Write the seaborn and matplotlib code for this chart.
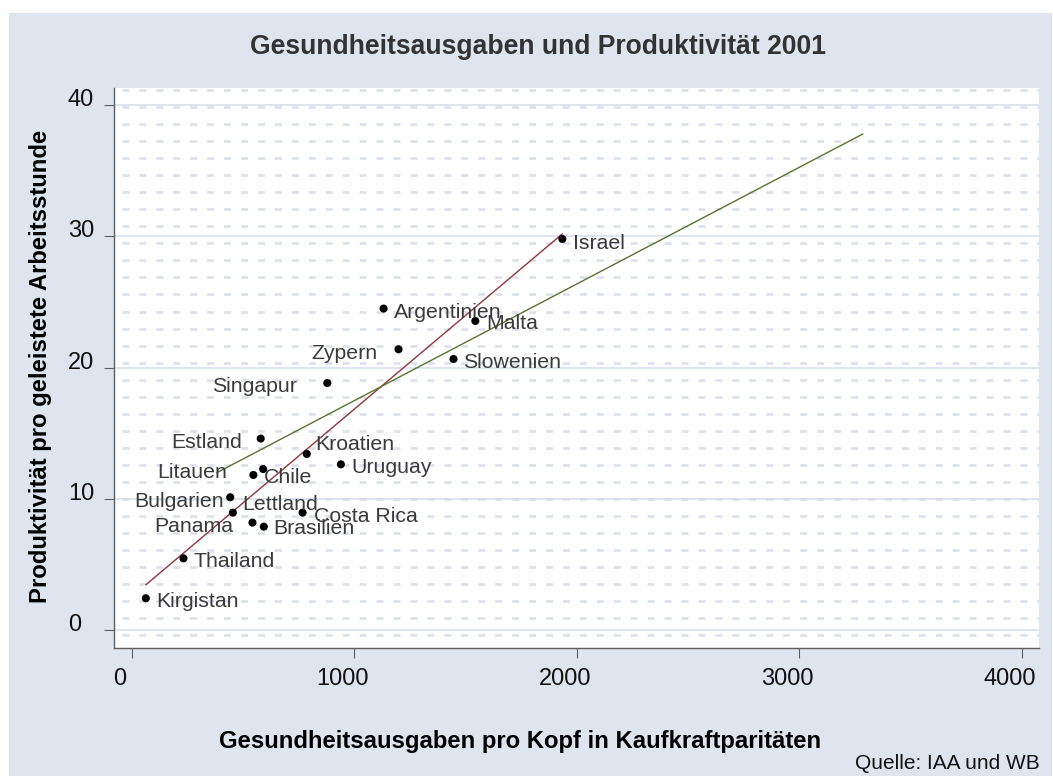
import numpy as np
import pandas as pd
import matplotlib
matplotlib.use('Agg')
import matplotlib.pyplot as plt
import matplotlib.transforms as mtransforms
from matplotlib.patches import Rectangle
import seaborn as sns

# Werte
laender = ['Argentinien', 'Malta', 'Zypern', 'Slowenien', 'Singapur', 'Estland',
           'Kroatien', 'Uruguay', 'Chile', 'Litauen', 'Bulgarien', 'Lettland',
           'Costa Rica', 'Panama', 'Brasilien', 'Thailand', 'Kirgistan', 'Israel']
ausgaben = [1132, 1544, 1199, 1446, 879, 580, 787, 940, 591, 547, 443, 455,
            768, 543, 594, 233, 64, 1935]
produktivitaet = [24.5, 23.56, 21.4, 20.66, 18.83, 14.6, 13.43, 12.64, 12.28, 11.83,
                  10.13, 8.96, 8.96, 8.2, 7.89, 5.48, 2.44, 29.8]

# zweite Gerade (andere Stichprobe, nur Endpunkte ablesbar)
gruen_x = [383, 3285]
gruen_y = [12.0, 37.8]

x_ticks = [0, 1000, 2000, 3000, 4000]
y_ticks = [0, 10, 20, 30, 40]

# Position der Beschriftungen relativ zum Punkt (Pixel, Ausrichtung)
label_pos = {
    'Argentinien': (10, -9.3, 'left'), 'Malta': (11, -8.3, 'left'),
    'Zypern': (-21, -9.7, 'right'), 'Slowenien': (10, -8.7, 'left'),
    'Singapur': (-30.3, -8.7, 'right'), 'Estland': (-19, -9, 'right'),
    'Kroatien': (8.3, 4, 'left'), 'Uruguay': (11, -9, 'left'),
    'Chile': (0.3, -14.3, 'left'), 'Litauen': (-26.7, -2.7, 'right'),
    'Bulgarien': (-6, -9.3, 'right'), 'Lettland': (9, 2.7, 'left'),
    'Costa Rica': (11, -9.7, 'left'), 'Panama': (-19, -9, 'right'),
    'Brasilien': (9.7, -7.7, 'left'), 'Thailand': (10, -8.3, 'left'),
    'Kirgistan': (10.3, -9, 'left'), 'Israel': (10.7, -9.7, 'left'),
}

df = pd.DataFrame({'Land': laender, 'Ausgaben': ausgaben, 'Produktivitaet': produktivitaet})

sns.set_theme(style='white')
plt.rcParams['font.family'] = ['Liberation Sans', 'DejaVu Sans']
plt.rcParams['lines.scale_dashes'] = False

W, H = 1053, 776
fig = plt.figure(figsize=(W / 100, H / 100), dpi=100, facecolor='white')
fig.patches.append(Rectangle((9 / W, 0), (1052 - 9) / W, (H - 13) / H, transform=fig.transFigure,
                             facecolor='#dfe5ef', edgecolor='none', zorder=-10))
ax = fig.add_axes([114 / W, 1 - 648 / H, (1039 - 114) / W, (648 - 88) / H])
ax.set_facecolor('white')

# gepunktetes Hintergrundmuster
for k in range(33):
    yk = 1 - (2 + 17.04 * k) / 560
    ax.plot([0, 1], [yk, yk], transform=ax.transAxes, color='#dbe0eb', lw=1.9,
            linestyle=(6.5, (5.0, 7.2)), zorder=0.3)

sns.regplot(data=df, x='Ausgaben', y='Produktivitaet', scatter=False, ci=None,
            color='#90353b', line_kws={'lw': 1.0, 'zorder': 2}, ax=ax)
sns.lineplot(x=gruen_x, y=gruen_y, color='#55752f', lw=1.0, ax=ax, zorder=2)
sns.scatterplot(data=df, x='Ausgaben', y='Produktivitaet', color='black', s=34,
                edgecolor='none', ax=ax, zorder=4, legend=False)

for land, xv, yv in zip(laender, ausgaben, produktivitaet):
    dx, dy, ha = label_pos[land]
    ax.annotate(land, (xv, yv), xytext=(dx, dy), textcoords='offset pixels',
                ha=ha, va='baseline', fontsize=15.3, color='#3a3a3a', zorder=5)

ax.set_xlim(-79, 4076)
ax.set_ylim(-1.35, 41.3)
ax.set_xticks(x_ticks)
ax.set_yticks(y_ticks)
ax.set_xlabel('')
ax.set_ylabel('')

ax.set_axisbelow(True)
ax.yaxis.grid(True, color='#d6deea', lw=1.1)
ax.xaxis.grid(False)
for s in ['top', 'right']:
    ax.spines[s].set_visible(False)
for s in ['left', 'bottom']:
    ax.spines[s].set_color('#5f5f5f')
    ax.spines[s].set_linewidth(1.0)

ax.tick_params(axis='both', direction='out', length=7.2, width=0.8, color='#5f5f5f',
               labelsize=17, labelcolor='#111111', bottom=True, left=True)
ax.tick_params(axis='y', pad=26)
ax.tick_params(axis='x', pad=7.5)

for lab in ax.get_yticklabels():
    lab.set_ha('left')
    lab.set_transform(lab.get_transform() + mtransforms.ScaledTranslation(0, 7.5 / 100, fig.dpi_scale_trans))
for lab in ax.get_xticklabels():
    lab.set_transform(lab.get_transform() + mtransforms.ScaledTranslation(-12 / 100, 0, fig.dpi_scale_trans))

fig.text(538 / W, 1 - 54 / H, 'Gesundheitsausgaben und Produktivität 2001', ha='center',
         va='baseline', fontsize=19.1, fontweight='bold', color='#333333')
fig.text(520 / W, 1 - 748 / H, 'Gesundheitsausgaben pro Kopf in Kaufkraftparitäten',
         ha='center', va='baseline', fontsize=17.2, fontweight='bold', color='black')
fig.text(41 / W, 1 - 366 / H, 'Produktivität pro geleistete Arbeitsstunde', rotation=90,
         ha='center', va='center', fontsize=17.2, fontweight='bold', color='black')
fig.text(1040 / W, 1 - 769 / H, 'Quelle: IAA und WB', ha='right', va='baseline',
         fontsize=15, color='#111111')

fig.savefig('out.png', dpi=100)
